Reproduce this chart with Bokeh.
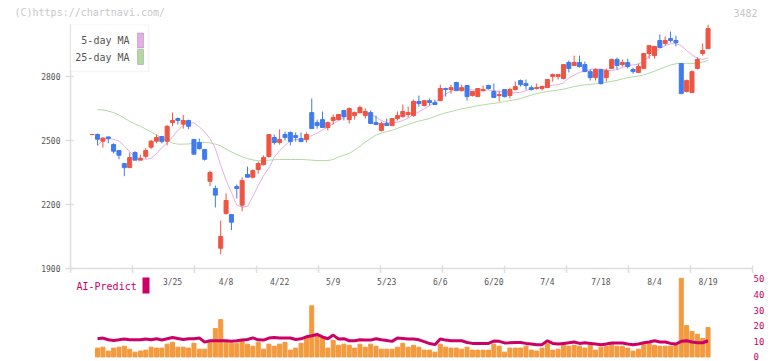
from bokeh.plotting import figure
from bokeh.models import (Range1d, FixedTicker, Label, BoxAnnotation, LabelSet,
                          ColumnDataSource)
from bokeh.core.properties import value
from bokeh.layouts import column
from bokeh.embed import file_html
from bokeh.resources import INLINE

# ---------------- data ----------------
tick_labels = ["3/25", "4/8", "4/22", "5/9", "5/23", "6/6", "6/20", "7/4", "7/18", "8/4", "8/19"]
tick_index = [15, 25, 35, 45, 55, 65, 75, 85, 95, 105, 115]

opens = [2528, 2528, 2497, 2517, 2481, 2453, 2392, 2373, 2444, 2408,
         2426, 2469, 2497, 2519, 2497, 2584, 2603, 2577, 2594, 2505,
         2491, 2458, 2309, 2275, 1995, 2158, 2153, 2284, 2197, 2341,
         2328, 2364, 2387, 2425, 2514, 2491, 2528, 2538, 2523, 2509,
         2505, 2631, 2584, 2598, 2561, 2594, 2598, 2641, 2598, 2617,
         2631, 2617, 2631, 2584, 2547, 2580, 2570, 2603, 2612, 2622,
         2617, 2683, 2664, 2687, 2678, 2687, 2744, 2739, 2772, 2734,
         2758, 2711, 2706, 2734, 2758, 2730, 2711, 2739, 2711, 2739,
         2781, 2767, 2748, 2744, 2744, 2748, 2800, 2800, 2791, 2866,
         2852, 2866, 2856, 2823, 2795, 2833, 2795, 2838, 2880, 2856,
         2866, 2833, 2819, 2838, 2908, 2898, 2969, 2955, 2978, 2969,
         2861, 2730, 2725, 2838, 2908, 2931]
highs = [2528, 2533, 2517, 2517, 2487, 2453, 2392, 2444, 2450, 2434,
         2464, 2503, 2528, 2519, 2572, 2631, 2608, 2620, 2598, 2505,
         2509, 2458, 2359, 2289, 2125, 2252, 2153, 2294, 2327, 2378,
         2364, 2402, 2430, 2528, 2528, 2552, 2542, 2542, 2538, 2538,
         2538, 2697, 2598, 2636, 2589, 2622, 2622, 2641, 2655, 2636,
         2664, 2650, 2641, 2617, 2589, 2603, 2603, 2636, 2669, 2659,
         2692, 2711, 2687, 2697, 2692, 2762, 2748, 2762, 2776, 2762,
         2758, 2730, 2744, 2758, 2762, 2767, 2734, 2739, 2748, 2776,
         2786, 2786, 2758, 2767, 2758, 2786, 2814, 2809, 2856, 2875,
         2898, 2898, 2870, 2833, 2838, 2833, 2838, 2884, 2889, 2880,
         2884, 2842, 2861, 2908, 2945, 2941, 2997, 2988, 3011, 2992,
         2861, 2786, 2828, 2889, 2955, 3044]
lows = [2528, 2478, 2467, 2487, 2439, 2412, 2333, 2373, 2408, 2408,
        2416, 2460, 2487, 2487, 2478, 2567, 2575, 2556, 2553, 2436,
        2458, 2406, 2286, 2186, 1967, 2153, 2080, 2228, 2169, 2328,
        2322, 2345, 2383, 2420, 2481, 2481, 2500, 2477, 2495, 2495,
        2491, 2556, 2556, 2561, 2547, 2575, 2594, 2594, 2580, 2598,
        2627, 2603, 2580, 2575, 2542, 2570, 2570, 2594, 2608, 2608,
        2612, 2659, 2659, 2664, 2669, 2687, 2706, 2720, 2734, 2730,
        2687, 2706, 2706, 2730, 2739, 2702, 2683, 2702, 2697, 2734,
        2753, 2739, 2734, 2739, 2734, 2748, 2776, 2786, 2786, 2819,
        2852, 2842, 2823, 2781, 2781, 2762, 2776, 2838, 2833, 2847,
        2838, 2814, 2819, 2838, 2884, 2884, 2936, 2945, 2959, 2941,
        2720, 2725, 2725, 2833, 2898, 2931]
closes = [2528, 2506, 2511, 2509, 2450, 2431, 2373, 2420, 2408, 2416,
          2453, 2497, 2514, 2495, 2567, 2594, 2594, 2594, 2567, 2436,
          2462, 2412, 2350, 2244, 2050, 2219, 2117, 2275, 2312, 2328,
          2359, 2392, 2420, 2528, 2491, 2505, 2514, 2495, 2514, 2495,
          2528, 2556, 2570, 2561, 2584, 2608, 2622, 2612, 2650, 2631,
          2655, 2636, 2580, 2575, 2580, 2570, 2603, 2617, 2636, 2631,
          2683, 2673, 2687, 2678, 2669, 2744, 2739, 2748, 2734, 2748,
          2706, 2730, 2744, 2739, 2744, 2702, 2716, 2706, 2739, 2753,
          2762, 2758, 2739, 2748, 2753, 2786, 2809, 2809, 2856, 2838,
          2866, 2847, 2823, 2795, 2833, 2767, 2828, 2880, 2852, 2866,
          2847, 2823, 2847, 2908, 2945, 2941, 2936, 2969, 2969, 2959,
          2720, 2781, 2823, 2880, 2922, 3025]

# moving averages, volume and AI-Predict start at day 1
ma5 = [2475, 2505, 2509, 2506, 2497, 2475, 2447, 2423, 2416, 2412,
       2416, 2439, 2466, 2491, 2517, 2548, 2572, 2580, 2584, 2564,
       2541, 2509, 2463, 2384, 2314, 2256, 2197, 2188, 2191, 2237,
       2289, 2336, 2370, 2422, 2453, 2477, 2500, 2505, 2506, 2511,
       2523, 2534, 2550, 2562, 2578, 2594, 2609, 2622, 2628, 2631,
       2631, 2625, 2609, 2594, 2583, 2583, 2586, 2594, 2605, 2622,
       2634, 2649, 2664, 2680, 2697, 2718, 2732, 2739, 2741, 2740,
       2737, 2737, 2737, 2737, 2734, 2730, 2726, 2725, 2724, 2726,
       2734, 2742, 2747, 2751, 2755, 2759, 2762, 2770, 2793, 2807,
       2819, 2826, 2833, 2836, 2835, 2830, 2828, 2833, 2842, 2852,
       2854, 2859, 2873, 2894, 2912, 2931, 2945, 2953, 2955, 2945,
       2922, 2901, 2887, 2880, 2887]
ma25 = [2645, 2644, 2638, 2631, 2620, 2605, 2590, 2577, 2567, 2554,
        2540, 2526, 2513, 2500, 2488, 2483, 2483, 2484, 2487, 2490,
        2491, 2489, 2483, 2475, 2460, 2446, 2434, 2424, 2415, 2409,
        2405, 2406, 2408, 2410, 2411, 2411, 2411, 2411, 2411, 2410,
        2408, 2406, 2406, 2406, 2411, 2423, 2431, 2440, 2455, 2474,
        2493, 2509, 2526, 2535, 2542, 2548, 2557, 2567, 2575, 2584,
        2591, 2597, 2603, 2613, 2622, 2630, 2636, 2642, 2649, 2653,
        2658, 2664, 2667, 2671, 2674, 2678, 2683, 2687, 2691, 2697,
        2705, 2713, 2720, 2725, 2730, 2733, 2737, 2741, 2747, 2753,
        2758, 2761, 2763, 2766, 2770, 2772, 2778, 2782, 2789, 2794,
        2799, 2802, 2808, 2816, 2825, 2835, 2845, 2854, 2860, 2862,
        2862, 2862, 2862, 2868, 2875]
volume = [5.7, 6.3, 3.8, 5.7, 6.3, 6.9, 5.0, 3.1, 3.8, 4.4,
          6.3, 5.7, 5.7, 8.2, 9.4, 6.3, 6.3, 5.7, 8.8, 5.0,
          5.0, 9.4, 18.2, 23.9, 10.1, 8.8, 8.8, 10.7, 8.2, 6.9,
          9.4, 5.0, 8.2, 6.9, 8.2, 9.4, 4.4, 5.7, 8.8, 13.2,
          32.7, 13.8, 12.6, 5.7, 10.7, 7.5, 8.2, 7.5, 5.7, 8.2,
          6.3, 8.2, 6.9, 5.0, 5.0, 5.0, 6.3, 8.8, 6.3, 7.5,
          6.3, 4.4, 4.4, 3.1, 8.2, 6.3, 5.7, 5.7, 5.0, 6.3,
          4.4, 4.4, 4.4, 4.4, 8.2, 6.9, 3.1, 5.7, 5.7, 5.7,
          6.9, 4.4, 3.8, 5.7, 8.8, 4.4, 5.0, 8.2, 6.9, 7.5,
          6.9, 5.7, 7.5, 4.4, 6.3, 6.9, 8.2, 6.9, 6.9, 5.7,
          3.8, 5.0, 8.2, 8.8, 7.5, 6.9, 6.9, 6.9, 8.2, 50.3,
          20.1, 16.4, 14.5, 11.9, 18.9]
ai_predict = [11.7, 12.1, 11.0, 10.6, 11.0, 11.5, 11.0, 11.1, 11.0, 11.5,
              11.0, 11.7, 10.9, 11.7, 12.5, 11.8, 11.2, 11.6, 11.7, 12.2,
              9.5, 10.4, 10.4, 10.4, 10.4, 10.0, 10.4, 10.9, 11.2, 12.2,
              11.0, 10.8, 12.1, 12.5, 12.1, 12.1, 12.1, 11.2, 11.6, 12.9,
              13.6, 14.4, 12.8, 11.7, 14.0, 11.5, 11.7, 10.4, 10.4, 11.0,
              10.8, 10.8, 11.7, 11.0, 10.6, 10.0, 12.1, 11.9, 11.5, 11.5,
              11.0, 9.8, 8.6, 7.9, 11.5, 10.8, 10.4, 10.4, 10.4, 9.3,
              8.7, 8.7, 8.7, 8.7, 10.2, 10.0, 9.0, 9.1, 9.3, 9.3,
              8.7, 8.3, 7.9, 7.9, 10.4, 8.7, 8.3, 8.7, 9.1, 9.6,
              8.7, 9.1, 8.7, 8.3, 7.9, 8.3, 8.9, 8.9, 8.9, 8.3,
              7.9, 8.3, 9.1, 9.6, 10.4, 9.6, 9.6, 8.7, 8.3, 10.0,
              10.4, 9.6, 9.1, 9.1, 10.4]

# ---------------- styling ----------------
FONT = "DejaVu Sans Mono"
RED = "#ef5442"
BLUE = "#3f7bef"
PINK = "#e6aee6"
GREEN = "#b2d9a2"
ORANGE = "#f39a3f"
MAGENTA = "#cc0066"
AXIS = "#dddddd"
TXT = "#555555"
W = 772

n = len(opens)
idx = list(range(n))
sub_idx = list(range(1, n))
colors = [RED if c >= o else BLUE for o, c in zip(opens, closes)]
src = ColumnDataSource(dict(
    x=idx, low=lows, high=highs,
    btop=[max(o, c) for o, c in zip(opens, closes)],
    bbot=[min(o, c) for o, c in zip(opens, closes)],
    color=colors))

X0, X1 = -4.05, 123.3
xr = Range1d(X0, X1)


def bare(fig):
    fig.outline_line_color = None
    fig.xgrid.grid_line_color = None
    fig.ygrid.grid_line_color = None


# ---------------- header (copyright + code) ----------------
p0 = figure(width=W, height=20, x_range=Range1d(0, 1), y_range=Range1d(0, 1),
            output_backend="svg", toolbar_location=None, title=None,
            x_axis_location=None, y_axis_location=None, min_border=0,
            min_border_left=0, min_border_right=0)
bare(p0)
p0.add_layout(Label(x=14, y=8, x_units="screen", y_units="screen",
                    text="(C)https://chartnavi.com/", text_baseline="middle",
                    text_font=FONT, text_font_size="10px", text_color="#c8c8c8"))
p0.add_layout(Label(x=757, y=8, x_units="screen", y_units="screen",
                    text="3482", text_align="right", text_baseline="middle",
                    text_font=FONT, text_font_size="10px", text_color="#c8c8c8"))

# ---------------- main price panel ----------------
p1 = figure(width=W, height=253, x_range=xr, y_range=Range1d(1900, max(highs)),
            output_backend="svg", toolbar_location=None, title=None,
            min_border_left=70, min_border_right=20, min_border_top=4,
            min_border_bottom=5)
bare(p1)

div_ticks = [X0 + k * (X1 - X0) / 11 for k in range(11)] + [X1 - 1e-6]
p1.xaxis.ticker = FixedTicker(ticks=[], minor_ticks=div_ticks)
p1.xaxis.major_tick_line_color = None
p1.xaxis.minor_tick_line_color = AXIS
p1.xaxis.minor_tick_line_width = 1.5
p1.xaxis.minor_tick_in = 3
p1.xaxis.minor_tick_out = 5
p1.xaxis.major_tick_out = 0
p1.xaxis.major_label_standoff = 0
p1.xaxis.axis_line_color = AXIS
p1.xaxis.axis_line_width = 1.5

p1.yaxis.ticker = FixedTicker(ticks=[1900, 2200, 2500, 2800])
p1.yaxis.axis_line_color = AXIS
p1.yaxis.axis_line_width = 1.5
p1.yaxis.major_tick_line_color = AXIS
p1.yaxis.major_tick_line_width = 1.5
p1.yaxis.major_tick_in = 3
p1.yaxis.major_tick_out = 5
p1.yaxis.minor_tick_line_color = None
p1.yaxis.major_label_text_font = FONT
p1.yaxis.major_label_text_font_size = "8px"
p1.yaxis.major_label_text_color = TXT
p1.yaxis.major_label_standoff = 5

p1.line(sub_idx, ma25, color=GREEN, line_width=1)
p1.line(sub_idx, ma5, color=PINK, line_width=1)
p1.segment(x0="x", y0="low", x1="x", y1="high", color="color", line_width=1, source=src)
p1.vbar(x="x", top="btop", bottom="bbot", width=0.75, fill_color="color",
        line_color="color", line_width=1, source=src)

# legend (text left, swatch right, like the original)
p1.add_layout(BoxAnnotation(left=0, right=78, top=244, bottom=197,
                            left_units="screen", right_units="screen",
                            top_units="screen", bottom_units="screen",
                            fill_color="white", fill_alpha=1,
                            line_color="#dddddd", line_width=1.5))
for txt, ymid, col in (("5-day MA", 228, PINK), ("25-day MA", 211.5, GREEN)):
    p1.add_layout(Label(x=59, y=ymid, x_units="screen", y_units="screen", text=txt,
                        text_align="right", text_baseline="middle", text_font=FONT,
                        text_font_size="10px", text_color=TXT))
    p1.add_layout(BoxAnnotation(left=67, right=73, top=ymid + 7.5, bottom=ymid - 7.5,
                                left_units="screen", right_units="screen",
                                top_units="screen", bottom_units="screen",
                                fill_color=col, fill_alpha=1, line_color="#666666",
                                line_width=1))

# ---------------- volume / AI-Predict panel ----------------
p2 = figure(width=W, height=88, x_range=xr, y_range=Range1d(-2.88, 53.39),
            output_backend="svg", toolbar_location=None, title=None,
            min_border_left=70, min_border_right=20, min_border_top=0,
            min_border_bottom=0, x_axis_location=None, y_axis_location="right")
bare(p2)
p2.yaxis.ticker = FixedTicker(ticks=[0, 10, 20, 30, 40, 50])
p2.yaxis.axis_line_color = None
p2.yaxis.major_tick_line_color = None
p2.yaxis.minor_tick_line_color = None
p2.yaxis.major_tick_in = 0
p2.yaxis.major_tick_out = 0
p2.yaxis.major_label_standoff = 1
p2.yaxis.major_label_text_font = FONT
p2.yaxis.major_label_text_font_size = "9px"
p2.yaxis.major_label_text_color = MAGENTA

p2.vbar(x=sub_idx, top=volume, bottom=0, width=0.75, color=ORANGE)
p2.line(sub_idx, ai_predict, color=MAGENTA, line_width=3)

lab_src = ColumnDataSource(dict(x=tick_index, text=tick_labels))
p2.add_layout(LabelSet(x="x", y=79, y_units="screen", text="text", source=lab_src,
                       text_align="center", text_baseline="middle",
                       text_font=value(FONT), text_font_size=value("8px"),
                       text_color=value(TXT)))
p2.add_layout(Label(x=6, y=75, x_units="screen", y_units="screen", text="AI-Predict",
                    text_baseline="middle", text_font=FONT, text_font_size="10px",
                    text_color=MAGENTA))
p2.add_layout(BoxAnnotation(left=72, right=79, top=84, bottom=68,
                            left_units="screen", right_units="screen",
                            top_units="screen", bottom_units="screen",
                            fill_color=MAGENTA, fill_alpha=1, line_color=None))

layout = column(p0, column(p1, p2, spacing=0), spacing=0)
open("out.html", "w").write(file_html(layout, INLINE))
